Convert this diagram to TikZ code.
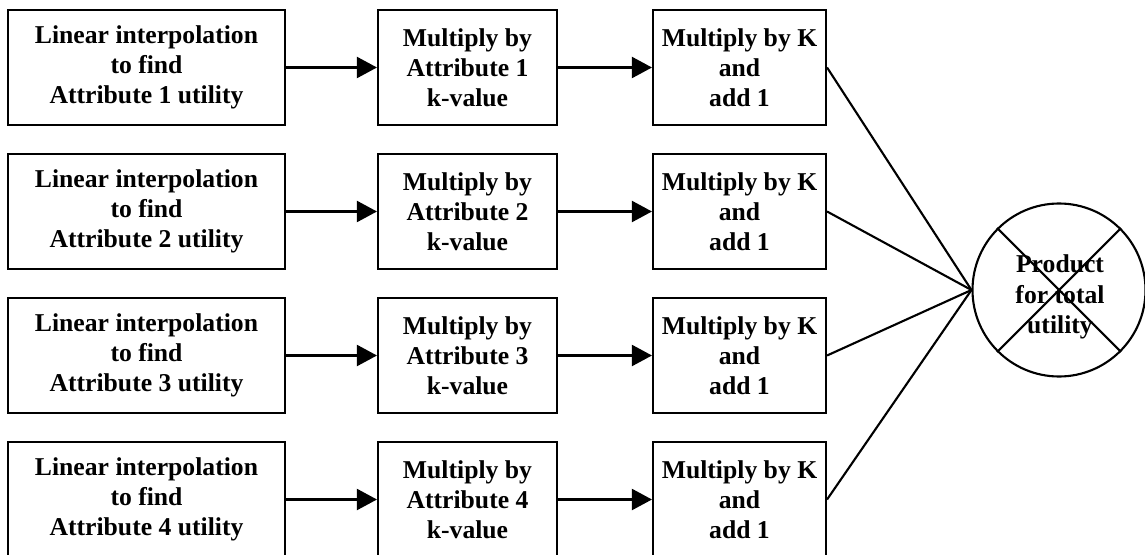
\documentclass[tikz,border=0pt]{standalone}
\usepackage{fontspec}
\setmainfont{Liberation Serif}
\usetikzlibrary{arrows.meta}
\newlength{\rowht}
\setlength{\rowht}{2.3cm}

\begin{document}
\begin{tikzpicture}[line width=1.2pt,
    box/.style={draw,rectangle,minimum height=\rowht,align=center,inner sep=0pt,
                font=\fontsize{14.6}{17.2}\selectfont\bfseries},
    feed/.style={-{Triangle[length=0.4cm,width=0.42cm]}}]
            \useasboundingbox (0,0) rectangle (22.9,11.08);
            \node[box,minimum width=5.54cm] (interp1) at (2.93,9.73) {Linear interpolation\\to find\\Attribute 1 utility};
            \node[box,minimum width=5.54cm] (interp2) at (2.93,6.85) {Linear interpolation\\to find\\Attribute 2 utility};
            \node[box,minimum width=5.54cm] (interp3) at (2.93,3.97) {Linear interpolation\\to find\\Attribute 3 utility};
            \node[box,minimum width=5.54cm] (interp4) at (2.93,1.09) {Linear interpolation\\to find\\Attribute 4 utility};
            \node[box,minimum width=3.58cm] (mult1) at (9.35,9.73) {Multiply by\\Attribute 1\\k-value};
            \node[box,minimum width=3.58cm] (mult2) at (9.35,6.85) {Multiply by\\Attribute 2\\k-value};
            \node[box,minimum width=3.58cm] (mult3) at (9.35,3.97) {Multiply by\\Attribute 3\\k-value};
            \node[box,minimum width=3.58cm] (mult4) at (9.35,1.09) {Multiply by\\Attribute 4\\k-value};
            \node[box,minimum width=3.46cm] (addK1) at (14.79,9.73) {Multiply by K\\and\\add 1};
            \node[box,minimum width=3.46cm] (addK2) at (14.79,6.85) {Multiply by K\\and\\add 1};
            \node[box,minimum width=3.46cm] (addK3) at (14.79,3.97) {Multiply by K\\and\\add 1};
            \node[box,minimum width=3.46cm] (addK4) at (14.79,1.09) {Multiply by K\\and\\add 1};
            \node[box,circle,minimum size=3.46cm] (prod) at (21.18,5.28) {};
            \node[align=center,font=\fontsize{14.6}{17.2}\selectfont\bfseries] (prodtext) at (21.2,5.14) {Product\\for total\\utility};
            \draw(prod.45)--(prod.225);
            \draw(prod.135)--(prod.-45);
            \draw[feed](interp1)--(mult1);
            \draw[feed](interp2)--(mult2);
            \draw[feed](interp3)--(mult3);
            \draw[feed](interp4)--(mult4);
            \draw[feed](mult1)--(addK1);
            \draw[feed](mult2)--(addK2);
            \draw[feed](mult3)--(addK3);
            \draw[feed](mult4)--(addK4);
            \draw(addK1.east)--(prod.west);
            \draw(addK2.east)--(prod.west);
            \draw(addK3.east)--(prod.west);
            \draw(addK4.east)--(prod.west);
             \end{tikzpicture}
\end{document}
